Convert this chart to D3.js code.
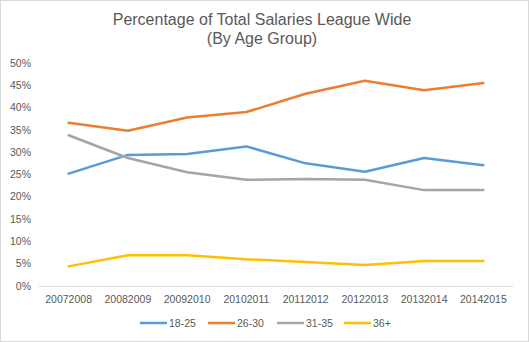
<!DOCTYPE html>
<html>
<head>
<meta charset="utf-8">
<script src="https://cdn.jsdelivr.net/npm/d3@7"></script>
<style>
  body { margin: 0; background: #fff; }
  svg { display: block; font-family: "Liberation Sans", Arial, sans-serif; }
</style>
</head>
<body>
<div id="chart"></div>
<script>
// data
const seasons = ["20072008", "20082009", "20092010", "20102011", "20112012", "20122013", "20132014", "20142015"];
const age18_25 = [25.2, 29.4, 29.6, 31.3, 27.5, 25.6, 28.7, 27.1];
const age26_30 = [36.6, 34.8, 37.8, 39.0, 43.1, 46.0, 43.9, 45.5];
const age31_35 = [33.8, 28.7, 25.5, 23.8, 24.0, 23.8, 21.5, 21.5];
const age36p   = [4.4, 6.9, 6.9, 6.0, 5.4, 4.7, 5.6, 5.6];
const yTicks = [0, 5, 10, 15, 20, 25, 30, 35, 40, 45, 50];

const series = [
  {name: "18-25", values: age18_25, color: "#5b9bd5"},
  {name: "26-30", values: age26_30, color: "#ed7d31"},
  {name: "31-35", values: age31_35, color: "#a5a5a5"},
  {name: "36+",   values: age36p,   color: "#ffc000"}
];

const width = 529, height = 342;
const svg = d3.select("#chart").append("svg")
    .attr("width", width)
    .attr("height", height);

// chart border
svg.append("rect")
    .attr("x", 0.5).attr("y", 0.5)
    .attr("width", width - 1).attr("height", height - 1)
    .attr("fill", "#fff")
    .attr("stroke", "#d9d9d9");

// title
const title = svg.append("text")
    .attr("text-anchor", "middle")
    .attr("fill", "#595959")
    .style("font-size", "16px");
title.append("tspan").attr("x", 262).attr("y", 25).text("Percentage of Total Salaries League Wide");
title.append("tspan").attr("x", 262).attr("y", 44).text("(By Age Group)");

// scales
const x = d3.scaleBand()
    .domain(seasons)
    .range([39, 513]);
const y = d3.scaleLinear()
    .domain([0, 50])
    .range([286, 63]);

// y axis labels (no line, no gridlines)
svg.append("g")
  .selectAll("text")
  .data(yTicks)
  .join("text")
    .attr("x", 31)
    .attr("y", d => y(d))
    .attr("dy", "0.35em")
    .attr("text-anchor", "end")
    .attr("fill", "#595959")
    .style("font-size", "10.5px")
    .text(d => d + "%");

// x axis
svg.append("line")
    .attr("x1", 39).attr("x2", 513)
    .attr("y1", y(0) + 0.5).attr("y2", y(0) + 0.5)
    .attr("stroke", "#d9d9d9");

svg.append("g")
  .selectAll("text")
  .data(seasons)
  .join("text")
    .attr("x", d => x(d) + x.bandwidth() / 2)
    .attr("y", 299)
    .attr("dy", "0.35em")
    .attr("text-anchor", "middle")
    .attr("fill", "#595959")
    .style("font-size", "10.5px")
    .text(d => d);

// lines
const line = d3.line()
    .x((d, i) => x(seasons[i]) + x.bandwidth() / 2)
    .y(d => y(d));

svg.append("g")
  .selectAll("path")
  .data(series)
  .join("path")
    .attr("d", d => line(d.values))
    .attr("fill", "none")
    .attr("stroke", d => d.color)
    .attr("stroke-width", 2.5)
    .attr("stroke-linejoin", "round")
    .attr("stroke-linecap", "round");

// legend
const legendX = [140, 208, 277, 344];
const legend = svg.append("g")
  .selectAll("g")
  .data(series)
  .join("g")
    .attr("transform", (d, i) => `translate(${legendX[i]},323)`);
legend.append("line")
    .attr("x1", 0).attr("x2", 27)
    .attr("stroke", d => d.color)
    .attr("stroke-width", 2.5);
legend.append("text")
    .attr("x", 29)
    .attr("dy", "0.35em")
    .attr("fill", "#595959")
    .style("font-size", "10.5px")
    .text(d => d.name);
</script>
</body>
</html>
